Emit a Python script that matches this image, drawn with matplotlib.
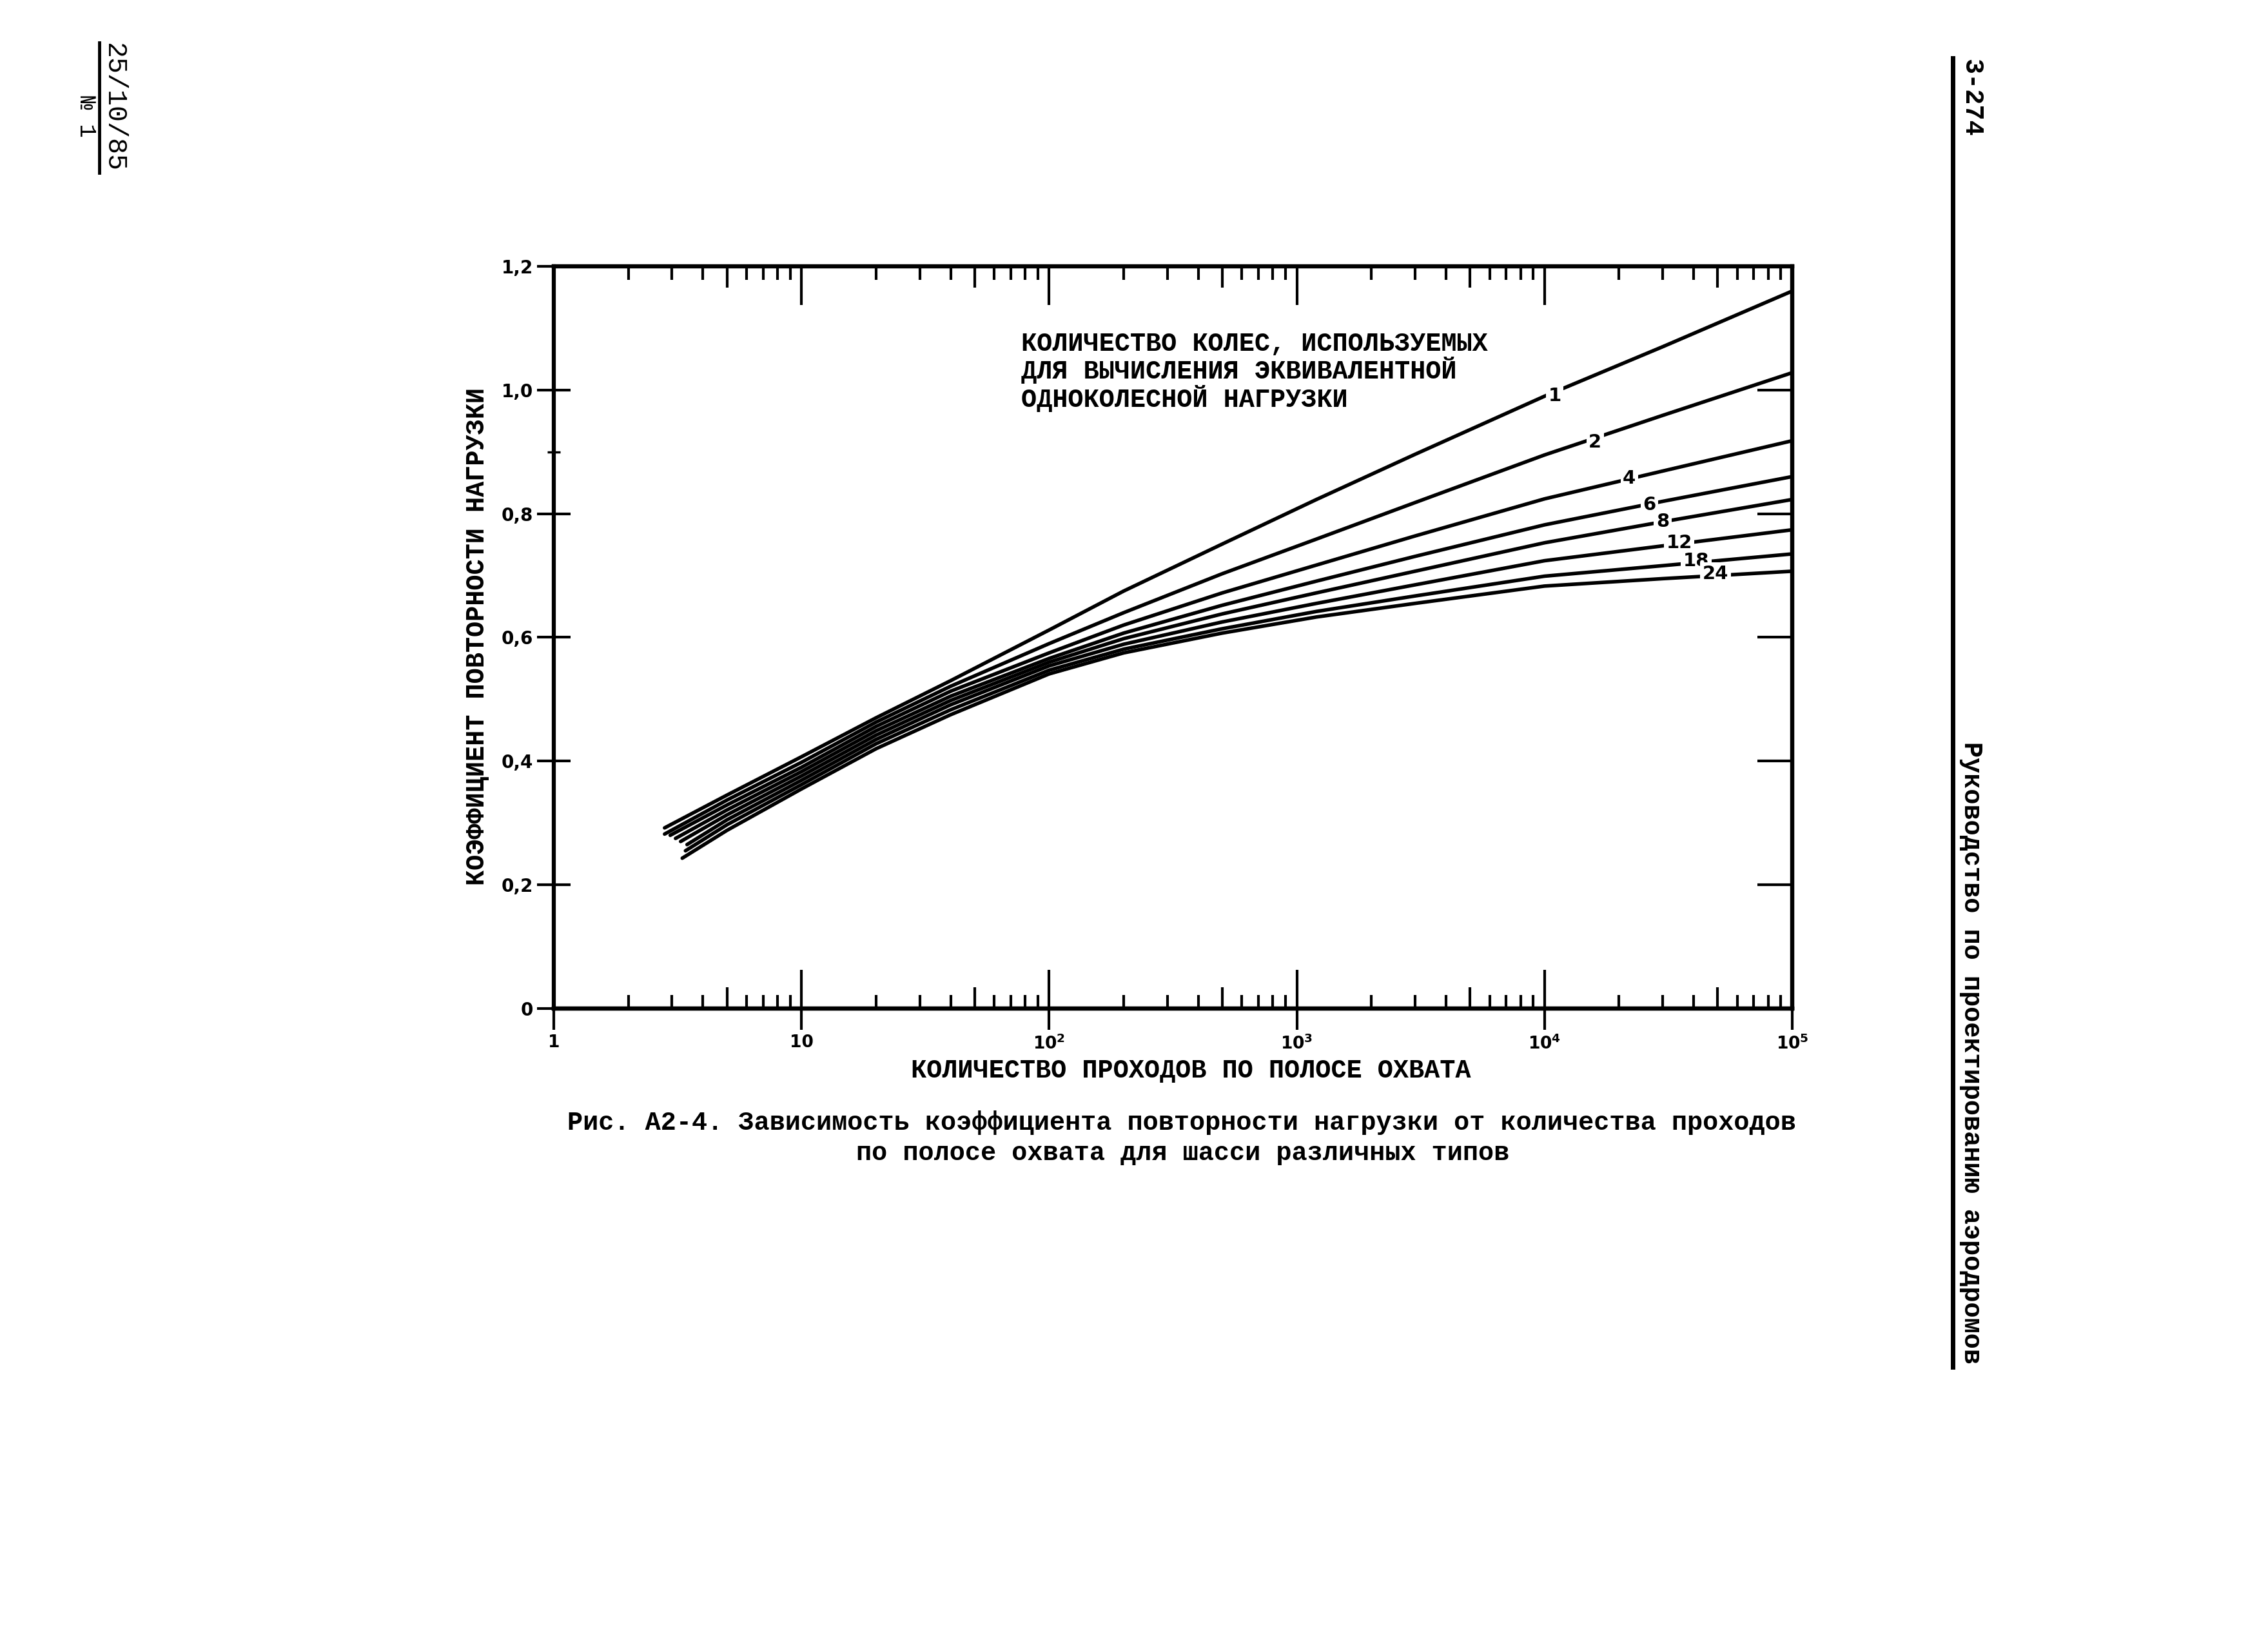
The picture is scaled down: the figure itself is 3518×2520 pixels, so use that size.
import matplotlib
matplotlib.use("Agg")
import matplotlib.pyplot as plt
from matplotlib.lines import Line2D
from matplotlib.ticker import FixedLocator, NullLocator, FixedFormatter

# ---------------- data ----------------
wheel_counts = ["1", "2", "4", "6", "8", "12", "18", "24"]

start_passes = [2.8, 2.8, 2.95, 3.1, 3.25, 3.45, 3.4, 3.3]
start_values = [0.292, 0.282, 0.280, 0.275, 0.270, 0.265, 0.255, 0.243]

passes = [5, 10, 20, 40, 100, 200, 500, 1200, 3000, 10000, 30000, 100000]

curve_1 = [0.345, 0.407, 0.470, 0.530, 0.612, 0.675, 0.751, 0.823, 0.896, 0.990, 1.070, 1.160]
curve_2 = [0.337, 0.398, 0.463, 0.521, 0.590, 0.640, 0.703, 0.759, 0.818, 0.895, 0.959, 1.028]
curve_4 = [0.329, 0.390, 0.456, 0.513, 0.575, 0.620, 0.672, 0.717, 0.764, 0.824, 0.869, 0.918]
curve_6 = [0.321, 0.383, 0.449, 0.505, 0.566, 0.607, 0.652, 0.691, 0.731, 0.782, 0.820, 0.860]
curve_8 = [0.313, 0.376, 0.442, 0.498, 0.560, 0.598, 0.638, 0.672, 0.707, 0.753, 0.787, 0.823]
curve_12 = [0.305, 0.369, 0.435, 0.491, 0.554, 0.589, 0.625, 0.655, 0.685, 0.724, 0.748, 0.774]
curve_18 = [0.297, 0.362, 0.428, 0.483, 0.547, 0.581, 0.614, 0.642, 0.667, 0.699, 0.716, 0.735]
curve_24 = [0.288, 0.355, 0.420, 0.475, 0.541, 0.575, 0.607, 0.633, 0.655, 0.683, 0.695, 0.707]
curves = [curve_1, curve_2, curve_4, curve_6, curve_8, curve_12, curve_18, curve_24]

label_passes = [1.1e4, 1.6e4, 2.2e4, 2.65e4, 3.0e4, 3.5e4, 4.1e4, 4.9e4]
label_values = [0.990, 0.915, 0.857, 0.814, 0.787, 0.753, 0.724, 0.703]

x_major = [1, 10, 100, 1000, 10000, 100000]
x_major_labels = ["1", "10", r"$\mathbf{10^{2}}$", r"$\mathbf{10^{3}}$",
                  r"$\mathbf{10^{4}}$", r"$\mathbf{10^{5}}$"]
x_minor = [m * 10 ** k for k in range(5) for m in (2, 3, 4, 6, 7, 8, 9)]
x_five = [5 * 10 ** k for k in range(5)]
y_ticks = [0, 0.2, 0.4, 0.6, 0.8, 1.0, 1.2]
y_tick_labels = ["0", "0,2", "0,4", "0,6", "0,8", "1,0", "1,2"]
y_right_ticks = [0.2, 0.4, 0.6, 0.8, 1.0]

x_label = "КОЛИЧЕСТВО ПРОХОДОВ ПО ПОЛОСЕ ОХВАТА"
y_label = "КОЭФФИЦИЕНТ ПОВТОРНОСТИ НАГРУЗКИ"
note = "КОЛИЧЕСТВО КОЛЕС, ИСПОЛЬЗУЕМЫХ\nДЛЯ ВЫЧИСЛЕНИЯ ЭКВИВАЛЕНТНОЙ\nОДНОКОЛЕСНОЙ НАГРУЗКИ"
caption_1 = "Рис. А2-4. Зависимость коэффициента повторности нагрузки от количества проходов"
caption_2 = "по полосе охвата для шасси различных типов"
page_no = "3-274"
book = "Руководство по проектированию аэродромов"
date_txt = "25/10/85"
num_txt = "№ 1"

# ---------------- figure ----------------
MONO = ["Liberation Mono", "DejaVu Sans Mono"]
plt.rcParams["font.family"] = ["DejaVu Sans"]

fig = plt.figure(figsize=(35.18, 25.2), dpi=100)
fig.patch.set_facecolor("white")
ax = fig.add_axes([0.2442, 0.3794, 0.5460, 0.4567])
ax.set_xscale("log")
ax.set_xlim(1, 1e5)
ax.set_ylim(0, 1.2)

for sp in ax.spines.values():
    sp.set_linewidth(4.5)

for name, x0, y0, vals in zip(wheel_counts, start_passes, start_values, curves):
    ax.plot([x0] + passes, [y0] + vals, color="black", lw=4.0,
            solid_capstyle="round", solid_joinstyle="round", zorder=3)

for name, lx, ly in zip(wheel_counts, label_passes, label_values):
    ax.text(lx, ly, name, ha="center", va="center", fontsize=21,
            fontweight="bold", zorder=5,
            bbox=dict(boxstyle="square,pad=0.12", fc="white", ec="none"))

# x ticks on main axes (inside, top and bottom)
ax.xaxis.set_major_locator(FixedLocator(x_major))
ax.xaxis.set_minor_locator(FixedLocator(x_minor))
ax.tick_params(axis="x", which="major", direction="in", length=43, width=3,
               top=True, bottom=True, labelbottom=False)
ax.tick_params(axis="x", which="minor", direction="in", length=15, width=3,
               top=True, bottom=True)

# taller 5-ticks
for loc in ("bottom", "top"):
    s = ax.secondary_xaxis(loc)
    s.xaxis.set_major_locator(FixedLocator(x_five))
    s.xaxis.set_minor_locator(NullLocator())
    s.tick_params(axis="x", which="major", direction="in", length=24, width=3,
                  labelbottom=False, labeltop=False)
    s.spines[loc].set_linewidth(4.5)

# outward part of major ticks + labels
sb = ax.secondary_xaxis("bottom")
sb.xaxis.set_major_locator(FixedLocator(x_major))
sb.xaxis.set_major_formatter(FixedFormatter(x_major_labels))
sb.xaxis.set_minor_locator(NullLocator())
sb.tick_params(axis="x", which="major", direction="out", length=24, width=3,
               pad=5, labelsize=19)
sb.spines["bottom"].set_linewidth(4.5)
for t in sb.get_xticklabels():
    t.set_fontweight("bold")

# y ticks
ax.yaxis.set_major_locator(FixedLocator(y_ticks))
ax.yaxis.set_major_formatter(FixedFormatter(y_tick_labels))
ax.yaxis.set_minor_locator(FixedLocator([0.9]))
ax.tick_params(axis="y", which="major", direction="inout", length=38, width=3,
               labelsize=20, pad=4)
ax.tick_params(axis="y", which="minor", direction="inout", length=14, width=2.5)
for t in ax.get_yticklabels():
    t.set_fontweight("bold")

sr = ax.secondary_yaxis("right")
sr.yaxis.set_major_locator(FixedLocator(y_right_ticks))
sr.yaxis.set_minor_locator(NullLocator())
sr.tick_params(axis="y", which="major", direction="in", length=39, width=3,
               labelright=False)
sr.spines["right"].set_linewidth(4.5)

FS = 29
# in-plot note
fig.text(0.4503, 0.7960, note, ha="left", va="top", fontsize=FS,
         fontweight="bold", family=MONO, linespacing=1.04)

# axis labels
fig.text(0.525, 0.3413, x_label, ha="center", va="center", fontsize=FS,
         fontweight="bold", family=MONO)
fig.text(0.2104, 0.6083, y_label, ha="center", va="center", fontsize=FS,
         fontweight="bold", family=MONO, rotation=90)

# caption
fig.text(0.521, 0.309, caption_1, ha="center", va="center", fontsize=FS,
         fontweight="bold", family=MONO)
fig.text(0.5215, 0.2905, caption_2, ha="center", va="center", fontsize=FS,
         fontweight="bold", family=MONO)

# right margin
fig.add_artist(Line2D([3029 / 3518, 3029 / 3518], [1 - 90 / 2520, 1 - 2120 / 2520],
                      transform=fig.transFigure, color="black", lw=5))
fig.text(3058 / 3518, 1 - 151 / 2520, page_no, ha="center", va="center",
         fontsize=FS, fontweight="bold", family=MONO, rotation=-90)
fig.text(3058 / 3518, 1 - 1632 / 2520, book, ha="center", va="center",
         fontsize=FS, fontweight="bold", family=MONO, rotation=-90)

# left margin
fig.add_artist(Line2D([154 / 3518, 154 / 3518], [1 - 66 / 2520, 1 - 268 / 2520],
                      transform=fig.transFigure, color="black", lw=3.5))
fig.text(176 / 3518, 1 - 166 / 2520, date_txt, ha="center", va="center",
         fontsize=30, family=MONO, rotation=-90)
fig.text(134 / 3518, 1 - 180 / 2520, num_txt, ha="center", va="center",
         fontsize=26, family=MONO, rotation=-90)

fig.savefig("out.png", dpi=100, facecolor="white")
